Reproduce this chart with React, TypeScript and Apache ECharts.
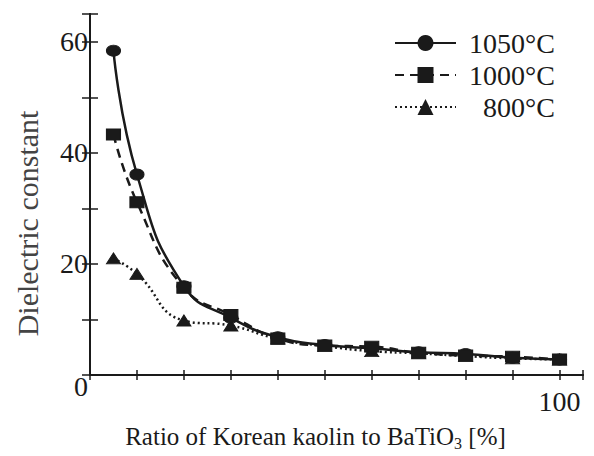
import React, { useEffect, useRef } from "react";
import * as echarts from "echarts";

const ratios = [5, 10, 20, 30, 40, 50, 60, 70, 80, 90, 100];
const eps1050 = [58.4, 36.1, 16.0, 10.3, 6.8, 5.4, 4.8, 4.1, 3.8, 3.1, 2.8];
const eps1000 = [43.3, 31.1, 15.7, 10.8, 6.6, 5.3, 5.1, 4.0, 3.5, 3.3, 2.8];
const eps800 = [21.0, 18.2, 9.8, 8.9, 6.5, 5.2, 4.3, 3.9, 3.4, 3.0, 2.8];
const seriesNames = ["1050°C", "1000°C", "800°C"];
const yTickLabels = [0, 20, 40, 60];
const xTickLabels = [100];

const FONT = "'Liberation Serif', 'DejaVu Serif', serif";
const INK = "#1a1a1a";

export default function App() {
  const ref = useRef<HTMLDivElement>(null);
  useEffect(() => {
    if (!ref.current) return;
    const chart = echarts.init(ref.current, undefined, { renderer: "svg" });
    const pair = (ys: number[]) => ratios.map((x, i) => [x, ys[i]]);
    const common = {
      type: "line" as const,
      smooth: 0.5,
      symbolSize: [14, 11],
      itemStyle: { color: INK, borderColor: INK },
      lineStyle: { color: INK, width: 2.5 },
      emphasis: { disabled: true },
    };
    const axisLine = { show: true, lineStyle: { color: INK, width: 2 } };
    chart.setOption({
      animation: false,
      textStyle: { fontFamily: FONT },
      grid: { left: 90, top: 14, right: 11, bottom: 77, containLabel: false },
      legend: {
        orient: "vertical",
        left: 394,
        top: 29,
        padding: 0,
        itemGap: 4,
        itemWidth: 61,
        itemHeight: 20,
        selectedMode: false,
        data: seriesNames,
        formatter: (n: string) => (n === "800°C" ? "\u2002" + n : n),
        textStyle: {
          fontFamily: FONT,
          fontSize: 28,
          color: INK,
          lineHeight: 28,
          padding: [0, 0, 0, 8],
        },
      },
      xAxis: [
        {
          type: "value",
          min: 0,
          max: 105,
          interval: 10,
          position: "bottom",
          name: "Ratio of Korean kaolin to BaTiO{sub|3} [%]",
          nameLocation: "middle",
          nameGap: 47,
          nameTextStyle: {
            fontFamily: FONT,
            fontSize: 25,
            color: INK,
            padding: [0, 42, 0, 0],
            rich: {
              sub: { fontFamily: FONT, fontSize: 16, color: INK, padding: [13, 0, 0, 0] },
            },
          },
          axisLine,
          axisTick: { show: true, inside: true, length: 5, lineStyle: { color: INK, width: 1.5 } },
          axisLabel: {
            fontFamily: FONT,
            fontSize: 28,
            color: INK,
            margin: 12,
            formatter: (v: number) => (xTickLabels.includes(v) ? String(v) : ""),
          },
          splitLine: { show: false },
        },
        {
          type: "value",
          min: 0,
          max: 105,
          interval: 10,
          position: "top",
          axisLine,
          axisTick: { show: true, inside: true, length: 5, lineStyle: { color: INK, width: 1.5 } },
          axisLabel: { show: false },
          splitLine: { show: false },
        },
      ],
      yAxis: [
        {
          type: "value",
          min: 0,
          max: 65,
          interval: 10,
          position: "left",
          name: "Dielectric constant",
          nameLocation: "middle",
          nameGap: 48,
          nameTextStyle: {
            fontFamily: FONT,
            fontSize: 30,
            color: "#444",
            padding: [0, 58, 0, 0],
          },
          axisLine,
          axisTick: { show: true, inside: true, length: 8, lineStyle: { color: INK, width: 1.5 } },
          axisLabel: {
            fontFamily: FONT,
            fontSize: 28,
            color: INK,
            margin: 2,
            formatter: (v: number) =>
              yTickLabels.includes(v) ? (v === 0 ? "{z|0}" : String(v)) : "",
            rich: { z: { fontFamily: FONT, fontSize: 28, color: INK, padding: [22, 0, 0, 0] } },
          },
          splitLine: { show: false },
        },
        {
          type: "value",
          min: 0,
          max: 65,
          interval: 10,
          position: "right",
          axisLine,
          axisTick: { show: true, inside: true, length: 8, lineStyle: { color: INK, width: 1.5 } },
          axisLabel: { show: false },
          splitLine: { show: false },
        },
      ],
      series: [
        { ...common, name: seriesNames[0], symbol: "circle", data: pair(eps1050), z: 3 },
        {
          ...common,
          name: seriesNames[1],
          symbol: "rect",
          data: pair(eps1000),
          lineStyle: { ...common.lineStyle, type: [9, 6] },
          z: 4,
        },
        {
          ...common,
          name: seriesNames[2],
          symbol: "triangle",
          data: pair(eps800),
          lineStyle: { ...common.lineStyle, type: [2, 3] },
          z: 2,
        },
      ],
    });
    return () => chart.dispose();
  }, []);
  return (
    <div
      ref={ref}
      style={{ position: "absolute", left: 0, top: 0, width: 594, height: 456 }}
    />
  );
}
